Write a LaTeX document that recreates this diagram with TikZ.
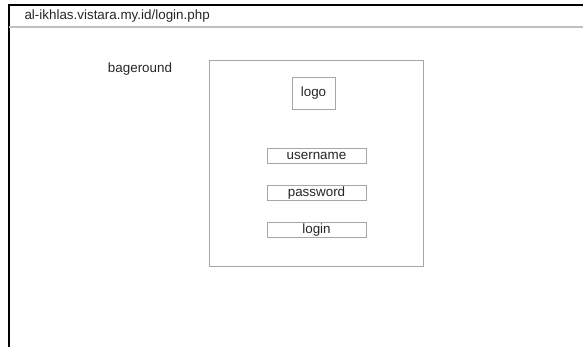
\documentclass[tikz,border=0pt]{standalone}
\usepackage{fontspec}
\setmainfont{Liberation Sans}
\usetikzlibrary{positioning}

\tikzset{
  framebox/.style={draw=gray!70, line width=0.8pt, fill=white, inner sep=0pt},
  fieldbox/.style={framebox, minimum width=99pt, minimum height=15pt},
  label/.style={font=\fontsize{13.4}{15}\selectfont, text=black!85}
}

\begin{document}
\begin{tikzpicture}[x=1pt,y=-1pt]
		\useasboundingbox (0,0) rectangle (583,347);
		% browser window
		\draw[line width=2pt] (9,347) -- (9,5) -- (583,5);
		\draw[gray!50, line width=1.5pt] (9,27) -- (583,27);
		\node[label, anchor=west] (url) at (21,16) {al-ikhlas.vistara.my.id/login.php};
		
		\node[label] (bg) at (140,69) {bageround};
		
		% login panel
		\node[framebox, minimum width=214pt, minimum height=206pt] (panel) at (316,163) {};
		\node[framebox, label, minimum width=43pt, minimum height=32pt] (logo) at (313.5,93) {logo};
		\node[fieldbox, label] (user) at (316.5,156) {username};
		\node[fieldbox, label] (pass) at (316.5,193) {password};
		\node[fieldbox, label] (login) at (316.5,230) {login};
	\end{tikzpicture}
\end{document}
